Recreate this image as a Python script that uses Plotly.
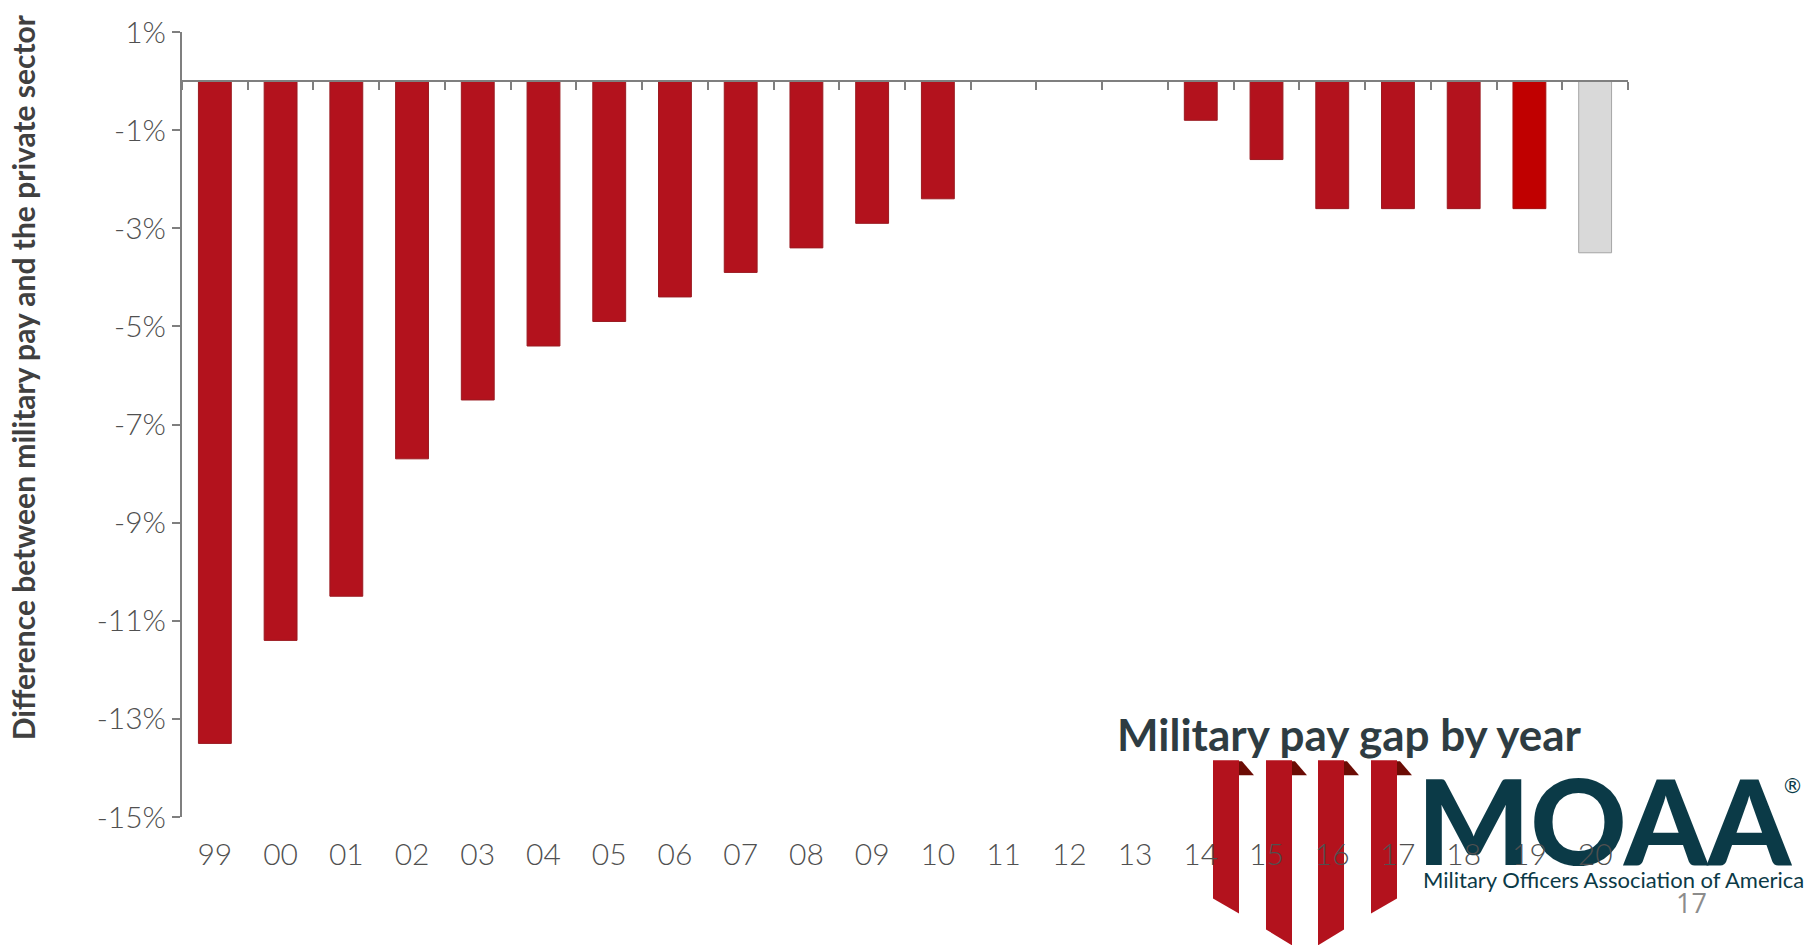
import plotly.graph_objects as go

# Military pay gap relative to private-sector wage growth (ECI), by year
years = ["99", "00", "01", "02", "03", "04", "05", "06", "07", "08", "09",
         "10", "11", "12", "13", "14", "15", "16", "17", "18", "19", "20"]
pay_gap = [-13.5, -11.4, -10.5, -7.7, -6.5, -5.4, -4.9, -4.4, -3.9, -3.4, -2.9,
           -2.4, 0.0, 0.0, 0.0, -0.8, -1.6, -2.6, -2.6, -2.6, -2.6, -3.5]
y_ticks = [1, -1, -3, -5, -7, -9, -11, -13, -15]
y_tick_text = [f"{v}%" for v in y_ticks]

W, H = 1808, 945
ML, MR, MT, MB = 182, 180, 28, 128
PW, PH = W - ML - MR, H - MT - MB
Y_MIN, Y_MAX = -15, 1

RED = "#B3121D"
RED_19 = "#C00000"
GREY_BAR = "#D9D9D9"
TEAL = "#0B3A47"
AXIS = "#7F7F7F"
LABEL = "#505050"


def px(x):
    return (x - ML) / PW


def py(y):
    return (H - MB - y) / PH


bar_colors = [RED] * len(years)
bar_colors[-2] = RED_19
bar_colors[-1] = GREY_BAR
line_colors = ["#9A1A20"] * len(years)
line_colors[-2] = "#A30F0F"
line_colors[-1] = "#A6A6A6"

fig = go.Figure()
fig.add_trace(go.Bar(
    x=years, y=pay_gap, xaxis="x", yaxis="y",
    marker=dict(color=bar_colors, line=dict(color=line_colors, width=1)),
    showlegend=False, hoverinfo="x+y",
))
# invisible copy on the zero-line axis so its category ticks exist
fig.add_trace(go.Scatter(
    x=years, y=pay_gap, xaxis="x2", yaxis="y", mode="markers",
    marker=dict(opacity=0), showlegend=False, hoverinfo="skip",
))

zero_pos = (0 - Y_MIN) / (Y_MAX - Y_MIN)

shapes = []
# ribbon emblem
ribbons = [
    (1213, 1239, 899, 914),
    (1266, 1292, 930, 946),
    (1318, 1344, 946, 930),
    (1371, 1397, 914, 899),
]
for x0, x1, yl, yr in ribbons:
    pts = [(x0, 760), (x1, 760), (x1, yr), (x0, yl)]
    path = "M " + " L ".join(f"{px(a):.5f},{py(b):.5f}" for a, b in pts) + " Z"
    shapes.append(dict(type="path", path=path, xref="paper", yref="paper",
                       fillcolor=RED, line=dict(width=0), layer="below"))
    fold = [(x1, 761), (x1 + 3, 761), (x1 + 15, 775), (x1, 775)]
    path = "M " + " L ".join(f"{px(a):.5f},{py(b):.5f}" for a, b in fold) + " Z"
    shapes.append(dict(type="path", path=path, xref="paper", yref="paper",
                       fillcolor="#6B0C05", line=dict(width=0), layer="below"))

# wordmark
shapes.append(dict(
    type="rect", xref="paper", yref="paper",
    x0=px(1425), x1=px(1783), y0=py(862), y1=py(772),
    line=dict(width=0), fillcolor="rgba(0,0,0,0)", layer="below",
    label=dict(text="MOAA", textposition="middle center",
               font=dict(family="Lato", size=119, color=TEAL, weight=900)),
))

annotations = [
    dict(text="<b>Difference between military pay and the private sector</b>",
         textangle=-90, xref="paper", yref="paper", x=px(23), y=py(375),
         xanchor="center", yanchor="middle", showarrow=False,
         font=dict(family="Lato", size=30, color="#404040")),
    dict(text="<b>Military pay gap by year</b>", xref="paper", yref="paper",
         x=px(1349), y=py(734), xanchor="center", yanchor="middle",
         showarrow=False, font=dict(family="Lato", size=44, color="#2E3C42")),
    dict(text="Military Officers Association of America", xref="paper",
         yref="paper", x=px(1613), y=py(880), xanchor="center",
         yanchor="middle", showarrow=False,
         font=dict(family="Lato", size=22, color=TEAL)),
    dict(text="®", xref="paper", yref="paper", x=px(1792), y=py(786),
         xanchor="center", yanchor="middle", showarrow=False,
         font=dict(family="DejaVu Sans", size=21, color=TEAL)),
    dict(text="17", xref="paper", yref="paper", x=px(1691), y=py(903),
         xanchor="center", yanchor="middle", showarrow=False,
         font=dict(family="Open Sans", size=27, color="#8C8C8C")),
]

fig.update_layout(
    width=W, height=H,
    margin=dict(l=ML, r=MR, t=MT, b=MB, pad=0),
    paper_bgcolor="white", plot_bgcolor="white",
    bargap=0.5,
    xaxis=dict(
        type="category", categoryorder="array", categoryarray=years,
        range=[-0.5, len(years) - 0.5], showline=False, ticks="",
        showgrid=False, zeroline=False, ticklabelstandoff=17,
        tickfont=dict(family="Lato", size=30, color=LABEL, weight=300),
    ),
    xaxis2=dict(
        type="category", categoryorder="array", categoryarray=years,
        range=[-0.5, len(years) - 0.5], overlaying="x", anchor="free",
        position=zero_pos, side="bottom", showline=True, linecolor=AXIS,
        linewidth=2, ticks="outside", tickson="boundaries", ticklen=8,
        tickwidth=2, tickcolor=AXIS, showticklabels=False, showgrid=False,
        zeroline=False,
    ),
    yaxis=dict(
        range=[Y_MIN, Y_MAX], tickvals=y_ticks, ticktext=y_tick_text,
        showline=True, linecolor=AXIS, linewidth=2, ticks="outside",
        ticklen=8, tickwidth=2, tickcolor=AXIS, showgrid=False,
        zeroline=False,
        tickfont=dict(family="Lato", size=30, color=LABEL, weight=300),
    ),
    shapes=shapes,
    annotations=annotations,
)

fig.write_html("out.html")
